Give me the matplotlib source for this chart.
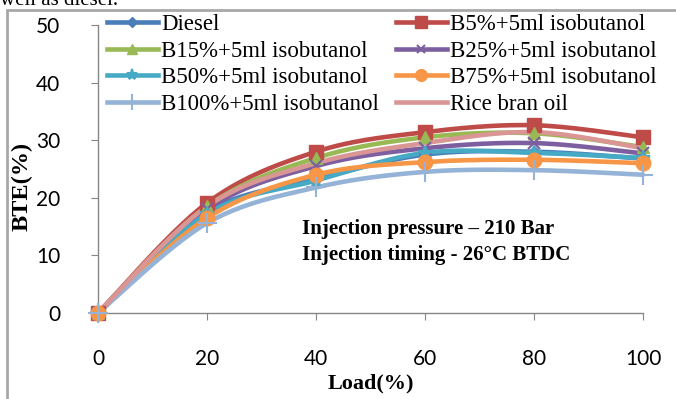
import numpy as np
import matplotlib
matplotlib.use("Agg")
import matplotlib.pyplot as plt
from matplotlib.patches import Rectangle

load = [0, 20, 40, 60, 80, 100]
diesel = [0, 17.5, 23.2, 27.5, 28.0, 26.8]
b5 = [0, 19.1, 28.0, 31.4, 32.6, 30.5]
b15 = [0, 18.5, 26.9, 30.5, 31.2, 28.8]
b25 = [0, 18.0, 25.5, 28.6, 29.5, 27.7]
b50 = [0, 17.2, 23.0, 27.8, 27.8, 26.9]
b75 = [0, 16.5, 24.0, 26.2, 26.6, 26.0]
b100 = [0, 15.6, 21.8, 24.5, 24.8, 24.0]
rice = [0, 18.5, 26.0, 29.5, 31.4, 28.6]

labels = ["Diesel", "B5%+5ml isobutanol", "B15%+5ml isobutanol", "B25%+5ml isobutanol",
          "B50%+5ml isobutanol", "B75%+5ml isobutanol", "B100%+5ml isobutanol", "Rice bran oil"]
series = [diesel, b5, b15, b25, b50, b75, b100, rice]
colors = ["#4A7EBB", "#BE4B48", "#98B954", "#7D5FA0", "#46AAC5", "#F79646", "#95B3D7", "#D99694"]
markers = ["D", "s", "^", "x", "*", "o", "+", None]
msizes = [6, 10.5, 9, 8, 10, 10.5, 14, 0]

xticks = [0, 20, 40, 60, 80, 100]
yticks = [0, 10, 20, 30, 40, 50]


def smooth(x, y, n=30):
    # Catmull-Rom style smoothing (like spreadsheet smoothed lines)
    x = np.asarray(x, float); y = np.asarray(y, float)
    px = np.concatenate([[x[0]], x, [x[-1]]])
    py = np.concatenate([[y[0]], y, [y[-1]]])
    xs, ys = [], []
    t = np.linspace(0, 1, n)
    for i in range(1, len(px) - 2):
        p0, p1, p2, p3 = [np.array([px[j], py[j]]) for j in (i - 1, i, i + 1, i + 2)]
        c1 = p1 + (p2 - p0) / 6.0
        c2 = p2 - (p3 - p1) / 6.0
        b = ((1 - t) ** 3)[:, None] * p1 + (3 * (1 - t) ** 2 * t)[:, None] * c1 + \
            (3 * (1 - t) * t ** 2)[:, None] * c2 + (t ** 3)[:, None] * p2
        xs.extend(b[:, 0]); ys.extend(b[:, 1])
    return np.array(xs), np.array(ys)


fig = plt.figure(figsize=(6.76, 3.99), dpi=100)
fig.patches.append(Rectangle((7 / 676, -0.1), 1.2, (399 - 10) / 399 + 0.1, transform=fig.transFigure,
                             fill=False, edgecolor="#A8A8A8", linewidth=2.0))
fig.text(0.0, 1 - 5 / 399, "well as diesel.", fontsize=15, family="Liberation Serif",
         va="baseline", ha="left")

ax = fig.add_axes([98 / 676, (399 - 313) / 399, (643 - 98) / 676, (313 - 25) / 399])

handles = []
for s, lab, c, m, ms in zip(series, labels, colors, markers, msizes):
    sx, sy = smooth(load, s)
    ax.plot(sx, sy, color=c, lw=3.3, solid_capstyle="round", clip_on=False, zorder=2)
    if m is not None:
        mew = 1.5 if m in ("x", "+", "*") else 1
        ax.plot(load, s, linestyle="none", marker=m, markersize=ms, color=c,
                markeredgecolor=c, markeredgewidth=mew, clip_on=False, zorder=3)
    h, = ax.plot([], [], color=c, lw=3.3, marker=m if m else None, markersize=ms * 0.8,
                 markeredgewidth=1.5 if m in ("x", "+", "*") else 1)
    handles.append(h)

ax.set_xlim(0, 100)
ax.set_ylim(0, 50)
ax.set_xticks(xticks)
ax.set_yticks(yticks)
for sp in ("top", "right"):
    ax.spines[sp].set_visible(False)
for sp in ("left", "bottom"):
    ax.spines[sp].set_color("#868686")
    ax.spines[sp].set_linewidth(1.0)
ax.tick_params(axis="both", direction="out", length=5, color="#868686", labelsize=15)
ax.tick_params(axis="x", pad=21)
ax.tick_params(axis="y", pad=22)
for lbl in ax.get_xticklabels() + ax.get_yticklabels():
    lbl.set_family("Lato")

ax.set_xlabel("Load(%)", fontsize=16, fontweight="bold", family="Liberation Serif", labelpad=3)
ax.set_ylabel("BTE(%)", fontsize=17.5, fontweight="bold", family="Liberation Serif")
ax.yaxis.set_label_coords(-0.12, 0.44)

# row-wise legend order (matplotlib fills columns first)
order = [0, 2, 4, 6, 1, 3, 5, 7]
leg = ax.legend(handles=[handles[i] for i in order], labels=[labels[i] for i in order],
                ncol=2, loc="upper left",
                bbox_to_anchor=(0.0, 1.07), frameon=False, handlelength=2.2,
                handletextpad=0.15, columnspacing=0.75, labelspacing=0.24,
                prop={"family": "Liberation Serif", "size": 16.5}, borderaxespad=0)

ax.text(0.375, 0.245, "Injection pressure \u2013 210 Bar\nInjection timing - 26\u00b0C BTDC",
        transform=ax.transAxes, fontsize=15, fontweight="bold", family="Liberation Serif",
        ha="left", va="center", linespacing=1.4)

fig.savefig("out.png", dpi=100)
